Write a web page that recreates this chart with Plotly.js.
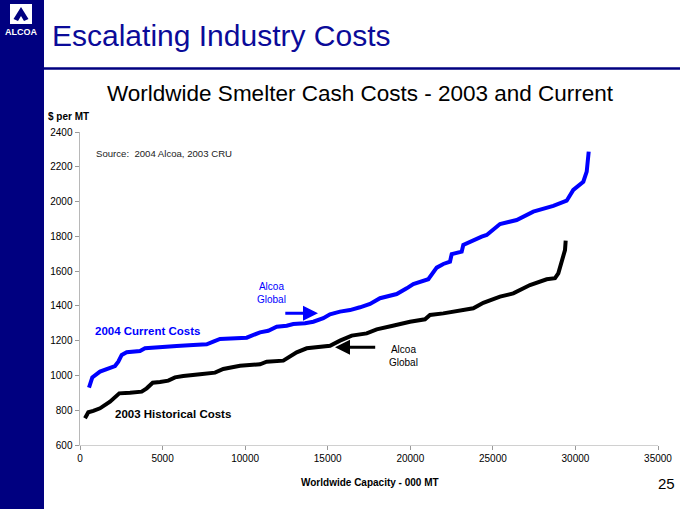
<!DOCTYPE html>
<html>
<head>
<meta charset="utf-8">
<script src="https://cdn.plot.ly/plotly-3.0.1.min.js"></script>
<style>
html,body{margin:0;padding:0;background:#fff;}
#chart{width:680px;height:509px;}
</style>
</head>
<body>
<div id="chart"></div>
<script>
// 2004 current costs curve (capacity 000 MT, $ per MT)
const cap2004 = [545,745,1211,1617,2119,2319,2525,2828,3633,3936,4844,5856,6861,7672,8072,8478,10094,10494,10900,11402,11911,12517,12916,13625,14127,14733,15139,15744,16350,16955,17561,18166,19177,19783,20182,21091,21297,21600,22000,22405,22508,23113,23210,23616,24324,24627,25027,25433,26444,27449,28660,29471,29871,30477,30683,30804];
const cost2004 = [930,989,1022,1037,1054,1079,1118,1133,1141,1156,1160,1169,1175,1179,1194,1210,1217,1233,1248,1257,1280,1286,1296,1300,1309,1329,1352,1367,1376,1392,1411,1444,1468,1501,1526,1553,1578,1620,1641,1654,1698,1712,1750,1769,1798,1808,1836,1871,1894,1942,1975,2005,2067,2114,2172,2287];
// 2003 historical costs curve
const cap2003 = [303,503,805,1211,1817,2119,2380,3028,3736,4039,4402,4844,5347,5753,6255,7266,8175,8677,9283,9689,10900,11305,12311,12716,13122,13728,14533,15139,15744,16453,17361,17966,18875,19983,20891,21194,22000,22811,23816,24422,25433,26238,27249,28260,28763,28963,29168,29368,29410];
const cost2003 = [754,788,796,811,849,874,897,901,907,926,958,962,970,989,997,1007,1016,1037,1045,1056,1064,1079,1085,1112,1133,1156,1165,1171,1200,1229,1242,1265,1284,1309,1323,1348,1357,1371,1386,1418,1453,1472,1520,1553,1559,1587,1654,1721,1775];
const xTicks = [0,5000,10000,15000,20000,25000,30000,35000];
const yTicks = [600,800,1000,1200,1400,1600,1800,2000,2200,2400];
// Alcoa Global markers (arrow head / tail positions in data units)
const alcoa2004 = {head:[14412,1357], tail:[12341,1357]};
const alcoa2003 = {head:[15442,1162], tail:[17966,1162]};

const L=80, T=132, W=578, H=313;
const px = x => (x-L)/W;
const py = y => (T+H-y)/H;
const F = 'Arial, "Liberation Sans", sans-serif';
const NAVY = '#000080';

const traces = [
  {x:cap2004, y:cost2004, type:'scatter', mode:'lines', line:{color:'#0000ff', width:4}, hoverinfo:'skip'},
  {x:cap2003, y:cost2003, type:'scatter', mode:'lines', line:{color:'#000000', width:4}, hoverinfo:'skip'}
];

const ann = (text, x, y, opts) => Object.assign({text, x:px(x), y:py(y), xref:'paper', yref:'paper', showarrow:false, font:{family:F, size:10, color:'#000'}}, opts||{});

const layout = {
  width:680, height:509,
  margin:{l:L, r:680-L-W, t:T, b:509-T-H, pad:0},
  paper_bgcolor:'#fff', plot_bgcolor:'#fff',
  showlegend:false,
  font:{family:F, size:10, color:'#000'},
  xaxis:{range:[0,35000], tickvals:xTicks, ticktext:xTicks.map(String), ticks:'outside', ticklen:4, tickcolor:'#999',
         showline:true, linecolor:'#d0d0d0', linewidth:1, showgrid:false, zeroline:false, tickfont:{family:F,size:10,color:'#000'}},
  yaxis:{range:[600,2400], tickvals:yTicks, ticktext:yTicks.map(String), ticks:'outside', ticklen:4, tickcolor:'#999',
         showline:true, linecolor:'#b8b8b8', linewidth:1.5, showgrid:false, zeroline:false, tickfont:{family:F,size:10,color:'#000'}},
  shapes:[
    {type:'rect', xref:'paper', yref:'paper', x0:px(0), x1:px(44), y0:py(509), y1:py(0), fillcolor:NAVY, line:{width:0}, layer:'above'},
    {type:'line', xref:'paper', yref:'paper', x0:px(44), x1:px(680), y0:py(68.5), y1:py(68.5), line:{color:NAVY, width:2.5}},
    {type:'rect', xref:'paper', yref:'paper', x0:px(10), x1:px(32), y0:py(24), y1:py(4), fillcolor:'#fff', line:{width:0}, layer:'above'},
    {type:'path', xref:'paper', yref:'paper', layer:'above', fillcolor:NAVY, line:{width:0},
      path:`M ${px(21)} ${py(7)} L ${px(28.5)} ${py(19)} L ${px(24)} ${py(21)} L ${px(21)} ${py(16)} L ${px(18)} ${py(21)} L ${px(13.5)} ${py(19)} Z`}
  ],
  annotations:[
    ann('<b>ALCOA</b>', 21, 32, {font:{family:F, size:9, color:'#fff'}, xanchor:'center', yanchor:'middle'}),
    ann('Escalating Industry Costs', 50, 35, {font:{family:F, size:30, color:'#0b0b99'}, xanchor:'left', yanchor:'middle'}),
    ann('Worldwide Smelter Cash Costs - 2003 and Current', 360, 93, {font:{family:F, size:22.5, color:'#000'}, xanchor:'center', yanchor:'middle'}),
    ann('<b>$ per MT</b>', 46, 117, {xanchor:'left', yanchor:'middle'}),
    ann('Source:  2004 Alcoa, 2003 CRU', 94, 153, {xanchor:'left', yanchor:'middle', font:{family:F, size:9.6, color:'#222'}}),
    ann('Alcoa<br>Global', 271, 293, {xanchor:'center', yanchor:'middle', font:{family:F, size:10, color:'#0000ff'}}),
    ann('Alcoa<br>Global', 403, 356, {xanchor:'center', yanchor:'middle', font:{family:F, size:10, color:'#000'}}),
    ann('<b>2004 Current Costs</b>', 93, 331, {xanchor:'left', yanchor:'middle', font:{family:F, size:11.5, color:'#0000ff'}}),
    ann('<b>2003 Historical Costs</b>', 113, 414, {xanchor:'left', yanchor:'middle', font:{family:F, size:11.5, color:'#000'}}),
    ann('<b>Worldwide Capacity - 000 MT</b>', 370, 482, {xanchor:'center', yanchor:'middle'}),
    ann('25', 666, 483, {xanchor:'center', yanchor:'middle', font:{family:F, size:15, color:'#000'}}),
    {x:alcoa2004.head[0], y:alcoa2004.head[1], ax:alcoa2004.tail[0], ay:alcoa2004.tail[1], xref:'x', yref:'y', axref:'x', ayref:'y',
     text:'', showarrow:true, arrowhead:2, arrowsize:1, arrowwidth:3, arrowcolor:'#0000ff'},
    {x:alcoa2003.head[0], y:alcoa2003.head[1], ax:alcoa2003.tail[0], ay:alcoa2003.tail[1], xref:'x', yref:'y', axref:'x', ayref:'y',
     text:'', showarrow:true, arrowhead:2, arrowsize:1, arrowwidth:3, arrowcolor:'#000'}
  ]
};

Plotly.newPlot('chart', traces, layout, {staticPlot:true, displayModeBar:false});
</script>
</body>
</html>
